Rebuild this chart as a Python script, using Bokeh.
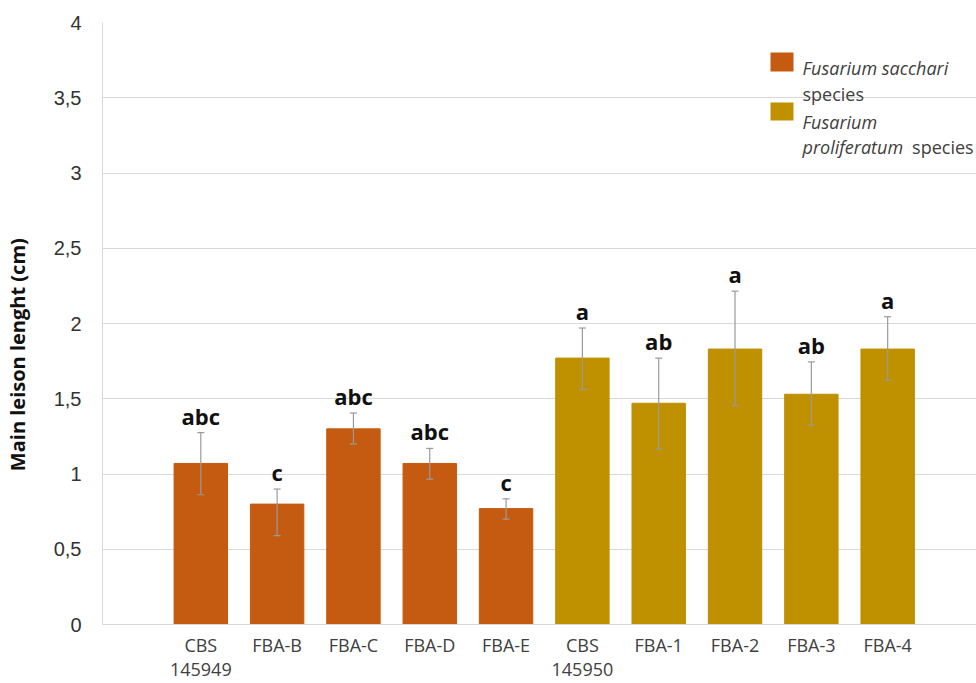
from bokeh.plotting import figure
from bokeh.models import (ColumnDataSource, Range1d, FixedTicker, Whisker, TeeHead,
                          CustomJSTickFormatter, Label, BoxAnnotation)
from bokeh.core.properties import value
from bokeh.embed import file_html
from bokeh.resources import INLINE

# ---- data ----
isolates = ["CBS\n145949", "FBA-B", "FBA-C", "FBA-D", "FBA-E",
            "CBS\n145950", "FBA-1", "FBA-2", "FBA-3", "FBA-4"]
species = ["sacchari"] * 5 + ["proliferatum"] * 5
lesion_mean = [1.07, 0.80, 1.30, 1.07, 0.77, 1.77, 1.47, 1.83, 1.53, 1.83]
err_upper = [1.275, 0.90, 1.405, 1.17, 0.835, 1.97, 1.77, 2.215, 1.745, 2.045]
err_lower = [0.862, 0.59, 1.20, 0.965, 0.70, 1.56, 1.165, 1.455, 1.325, 1.625]
letters = ["abc", "c", "abc", "abc", "c", "a", "ab", "a", "ab", "a"]
y_ticks = [0, 0.5, 1, 1.5, 2, 2.5, 3, 3.5, 4]
species_colors = {"sacchari": "#C55A11", "proliferatum": "#BF9000"}

idx = list(range(len(isolates)))
src = ColumnDataSource(dict(
    x=idx, top=lesion_mean, upper=err_upper, lower=err_lower, letter=letters,
    color=[species_colors[s] for s in species]))

p = figure(width=976, height=683, output_backend="svg", toolbar_location=None,
           x_range=Range1d(-1.288, 10.164), y_range=Range1d(0, 4),
           min_border_left=102, min_border_right=0, min_border_top=22, min_border_bottom=59)
p.outline_line_color = None
p.background_fill_color = "white"
p.border_fill_color = "white"

p.vbar(x="x", top="top", width=0.7, color="color", source=src)

w = Whisker(base="x", upper="upper", lower="lower", source=src,
            line_color="#9A9A9A", line_width=1.2, level="overlay",
            upper_head=TeeHead(size=7, line_color="#9A9A9A", line_width=1.2),
            lower_head=TeeHead(size=7, line_color="#9A9A9A", line_width=1.2))
p.add_layout(w)

p.text(x="x", y="upper", text="letter", source=src, y_offset=-17,
       text_align="center", text_baseline="alphabetic",
       text_font=value("Open Sans"), text_font_style="bold",
       text_font_size="22px", text_color="#111111")

# axes
p.xgrid.grid_line_color = None
p.ygrid.grid_line_color = "#D9D9D9"
p.ygrid.ticker = FixedTicker(ticks=y_ticks)

p.xaxis.ticker = FixedTicker(ticks=idx)
p.xaxis.major_label_overrides = {i: n for i, n in zip(idx, isolates)}
p.xaxis.major_tick_line_color = None
p.xaxis.minor_tick_line_color = None
p.xaxis.axis_line_color = "#D9D9D9"
p.xaxis.major_label_text_font = "Open Sans"
p.xaxis.major_label_text_font_size = "18px"
p.xaxis.major_label_text_color = "#404040"
p.xaxis.major_label_text_line_height = 1.0
p.xaxis.major_label_standoff = 2

p.yaxis.ticker = FixedTicker(ticks=y_ticks)
p.yaxis.formatter = CustomJSTickFormatter(code="return tick.toString().replace('.', ',');")
p.yaxis.major_tick_line_color = None
p.yaxis.minor_tick_line_color = None
p.yaxis.axis_line_color = "#D9D9D9"
p.yaxis.major_label_text_font = "Liberation Sans"
p.yaxis.major_label_text_font_size = "20px"
p.yaxis.major_label_text_color = "#333333"
p.yaxis.major_label_standoff = 15
# trailing no-break spaces shift the title a little below the frame centre, as in the reference
p.yaxis.axis_label = "Main leison lenght (cm)" + "\u00a0" * 12
p.yaxis.axis_label_text_font = "Open Sans"
p.yaxis.axis_label_text_font_style = "bold"
p.yaxis.axis_label_text_font_size = "20px"
p.yaxis.axis_label_text_color = "#111111"
p.yaxis.axis_label_standoff = 20

# legend (manual, to allow mixed italic / normal text)
lg_color = "#404040"
p.add_layout(BoxAnnotation(left=7.465, right=7.766, top=3.801, bottom=3.674,
                           fill_color=species_colors["sacchari"], fill_alpha=1, line_color=None))
p.add_layout(BoxAnnotation(left=7.465, right=7.766, top=3.468, bottom=3.349,
                           fill_color=species_colors["proliferatum"], fill_alpha=1, line_color=None))

def lab(x, y, t, style):
    p.add_layout(Label(x=x, y=y, text=t, text_font="Open Sans", text_font_size="18px",
                       text_font_style=style, text_color=lg_color,
                       text_baseline="alphabetic", text_align="left"))

lab(7.884, 3.699, "Fusarium sacchari", "italic")
lab(7.884, 3.528, "species", "normal")
lab(7.884, 3.338, "Fusarium", "italic")
lab(7.884, 3.171, "proliferatum", "italic")
lab(9.32, 3.171, "species", "normal")

open("out.html", "w").write(file_html(p, INLINE))
